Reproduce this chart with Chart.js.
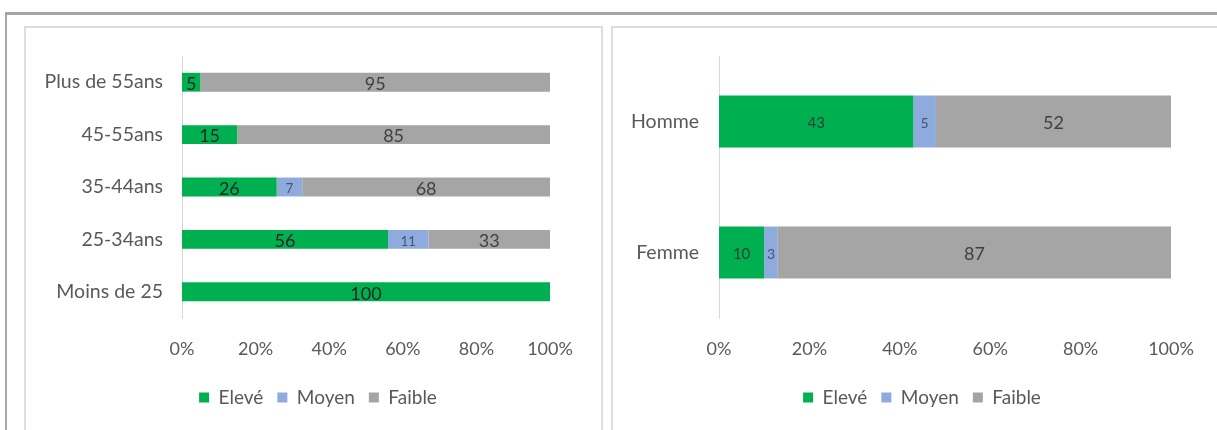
<!DOCTYPE html>
<html lang="fr">
<head>
<meta charset="utf-8">
<title>Niveau par âge et par sexe</title>
<script src="https://cdn.jsdelivr.net/npm/chart.js@4"></script>
<style>
  html, body { margin: 0; padding: 0; background: #fff; }
  body { width: 1217px; height: 430px; position: relative; overflow: hidden; }
  .frame { position: absolute; left: 5px; top: 12px; width: 1230px; height: 440px;
           border-left: 2px solid #a6a6a6; border-top: 3px solid #a6a6a6; }
  .box { position: absolute; top: 26px; height: 420px; border: 2px solid #dedede; }
  #boxAge { left: 24px; width: 575px; }
  #boxSexe { left: 611px; width: 640px; }
  .chart { position: absolute; top: 28px; height: 402px; }
  #wrapAge { left: 26px; width: 576px; }
  #wrapSexe { left: 613px; width: 604px; }
</style>
</head>
<body>
<div class="frame"></div>
<div class="box" id="boxAge"></div>
<div class="box" id="boxSexe"></div>
<div class="chart" id="wrapAge"><canvas id="chartAge"></canvas></div>
<div class="chart" id="wrapSexe"><canvas id="chartSexe"></canvas></div>

<script>
// Séries (en %)
const seriesNames = ['Elevé', 'Moyen', 'Faible'];
const xTicks = [0, 20, 40, 60, 80, 100];

const ageLabels = ['Plus de 55ans', '45-55ans', '35-44ans', '25-34ans', 'Moins de 25'];
const ageEleve = [5, 15, 26, 56, 100];
const ageMoyen = [0, 0, 7, 11, 0];
const ageFaible = [95, 85, 68, 33, 0];

const sexeLabels = ['Homme', 'Femme'];
const sexeEleve = [43, 10];
const sexeMoyen = [5, 3];
const sexeFaible = [52, 87];

const couleurs = ['#00b050', '#8faadc', '#a5a5a5'];
const police = 'Lato, "Liberation Sans", sans-serif';
const gris = '#595959';

// barres empilées à 100 % : chaque valeur rapportée au total de sa ligne
function parts(series) {
  const totals = series[0].map((_, i) => series.reduce((s, a) => s + a[i], 0));
  return series.map(a => a.map((v, i) => totals[i] ? v / totals[i] * 100 : 0));
}

// étiquettes de valeur au centre de chaque segment
const barLabels = {
  id: 'barLabels',
  afterDatasetsDraw(chart) {
    const ctx = chart.ctx;
    chart.data.datasets.forEach((ds, i) => {
      const meta = chart.getDatasetMeta(i);
      meta.data.forEach((bar, j) => {
        const v = ds.valeurs[j];
        if (!v) return;
        ctx.save();
        ctx.font = ds.labelSize + 'px ' + police;
        ctx.fillStyle = ds.labelColor;
        ctx.textAlign = 'center';
        ctx.textBaseline = 'middle';
        ctx.fillText(String(v), (bar.x + bar.base) / 2, bar.y + 2);
        ctx.restore();
      });
    });
  }
};

// décale la légende horizontalement (centrée sur la zone du graphique)
const legendShift = {
  id: 'legendShift',
  afterLayout(chart, args, opts) {
    const lg = chart.legend;
    if (!lg || !opts.dx) return;
    lg.left += opts.dx;
    lg.right += opts.dx;
  }
};

function makeChart(id, labels, series, o) {
  const shares = parts(series);
  const datasets = series.map((vals, k) => ({
    label: seriesNames[k],
    data: shares[k],
    valeurs: vals,
    backgroundColor: couleurs[k],
    borderWidth: 0,
    barPercentage: 0.9,
    categoryPercentage: o.cat,
    labelSize: o.labelSizes[k],
    labelColor: o.labelColors[k]
  }));

  return new Chart(document.getElementById(id), {
    type: 'bar',
    data: { labels, datasets },
    plugins: [barLabels, legendShift],
    options: {
      indexAxis: 'y',
      responsive: true,
      maintainAspectRatio: false,
      animation: false,
      layout: { padding: { left: 0, right: o.padRight, top: 28, bottom: 13 } },
      scales: {
        x: {
          stacked: true,
          min: 0,
          max: 100,
          afterBuildTicks: s => { s.ticks = xTicks.map(v => ({ value: v })); },
          afterFit: s => { s.height = 56; },
          grid: { display: false },
          border: { display: false },
          ticks: {
            callback: v => v + '%',
            color: gris,
            font: { family: police, size: 18 },
            padding: 12
          }
        },
        y: {
          stacked: true,
          afterFit: s => { s.width = o.yWidth; },
          grid: { display: false },
          border: { display: true, color: '#d9d9d9', width: 1 },
          ticks: {
            color: gris,
            font: { family: police, size: 19.5 },
            padding: o.tickPad
          }
        }
      },
      plugins: {
        legendShift: { dx: o.legendDx },
        legend: {
          position: 'bottom',
          labels: {
            boxWidth: 10,
            boxHeight: 10,
            padding: 14,
            color: gris,
            font: { family: police, size: 19 }
          }
        },
        tooltip: { enabled: false }
      }
    }
  });
}

makeChart('chartAge', ageLabels, [ageEleve, ageMoyen, ageFaible], {
  cat: 0.4,
  padRight: 52,
  yWidth: 156,
  tickPad: 11,
  legendDx: 30,
  labelSizes: [18, 13, 18],
  labelColors: ['#262626', '#44546a', '#404040']
});

makeChart('chartSexe', sexeLabels, [sexeEleve, sexeMoyen, sexeFaible], {
  cat: 0.44,
  padRight: 46,
  yWidth: 106,
  tickPad: 12,
  legendDx: 30,
  labelSizes: [15, 14, 18],
  labelColors: ['#2f3f35', '#44546a', '#404040']
});
</script>
</body>
</html>
